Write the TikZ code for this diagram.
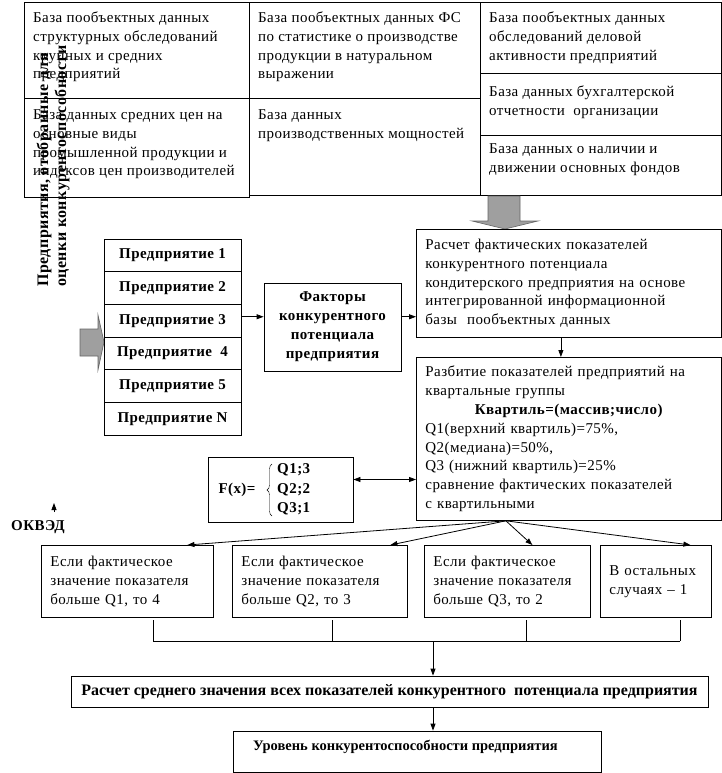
\documentclass[tikz,border=0pt]{standalone}
\usepackage{fontspec}
\setmainfont{Liberation Serif}
\newfontfamily\rusfont[LetterSpace=3]{Liberation Serif}
\usetikzlibrary{arrows.meta}
\usetikzlibrary{decorations.pathreplacing}
\usetikzlibrary{positioning}

\begin{document}
\begin{tikzpicture}[x=1pt,y=-1pt,
  cell/.style={draw,line width=0.8pt,anchor=north west,inner sep=0pt},
  txt/.style={anchor=north west,align=left,inner sep=0pt,font=\rusfont\fontsize{15}{18.8}\selectfont},
  box/.style={draw,line width=0.8pt,anchor=north west,inner xsep=9pt,inner ysep=0pt,align=left,font=\rusfont\fontsize{15}{18.8}\selectfont},
  bbox/.style={draw,line width=0.8pt,inner sep=0pt,align=center,font=\rusfont\bfseries\fontsize{15}{19}\selectfont},
  btxt/.style={inner sep=0pt,font=\rusfont\bfseries\fontsize{15}{19}\selectfont},
  arr/.style={line width=0.8pt,-{Triangle[length=7pt,width=5pt]}},
  bigarrow/.style={fill=gray!75,draw=black!60,line width=0.6pt}]

\fill[white] (0,0) rectangle (722,773);
\useasboundingbox (0,0) rectangle (722,773);

%top table
\node[cell,minimum width=225pt,minimum height=96pt] (c1a) at (24,2) {};
\node[cell,minimum width=225pt,minimum height=99pt] (c1b) at (24,98) {};
\node[cell,minimum width=231pt,minimum height=96pt] (c2a) at (249,2) {};
\node[cell,minimum width=231pt,minimum height=97pt] (c2b) at (249,98) {};
\node[cell,minimum width=241pt,minimum height=71pt] (c3a) at (480,2) {};
\node[cell,minimum width=241pt,minimum height=62pt] (c3b) at (480,73) {};
\node[cell,minimum width=241pt,minimum height=60pt] (c3c) at (480,135) {};

\node[txt] (t1a) at ([shift={(9,9.5)}]c1a.north west) {База пообъектных данных\\структурных обследований\\крупных и средних\\предприятий};
\node[txt] (t1b) at ([shift={(9,11.5)}]c1b.north west) {База данных средних цен на\\основные виды\\промышленной продукции и\\индексов цен производителей};
\node[txt] (t2a) at ([shift={(9,9.5)}]c2a.north west) {База пообъектных данных ФС\\по статистике о производстве\\продукции в натуральном\\выражении};
\node[txt] (t2b) at ([shift={(9,11.5)}]c2b.north west) {База данных\\производственных мощностей};
\node[txt] (t3a) at ([shift={(9,9.5)}]c3a.north west) {База пообъектных данных\\обследований деловой\\активности предприятий};
\node[txt] (t3b) at ([shift={(9,12.5)}]c3b.north west) {База данных бухгалтерской\\отчетности~ организации};
\node[txt] (t3c) at ([shift={(9,8.5)}]c3c.north west) {База данных о наличии и\\движении основных фондов};

%rotated caption over the table
\node[btxt,rotate=90,anchor=west,align=left,font=\rusfont\bfseries\fontsize{16}{18}\selectfont] (sel) at (53,287) {Предприятия, отобранные для\\оценки конкурентоспособности};

%big grey arrows
\filldraw[bigarrow] (488,196) -- (520,196) -- (520,221) -- (538,221) -- (505,229) -- (472,221) -- (488,221) -- cycle;
\filldraw[bigarrow] (80,329) -- (98,329) -- (98,315) -- (104,342) -- (98,370) -- (98,356) -- (80,356) -- cycle;

%enterprises
\foreach \lbl [count=\i] in {Предприятие 1,Предприятие 2,Предприятие 3,Предприятие~~4,Предприятие 5,Предприятие N}
  \node[bbox,minimum width=137pt,minimum height=32.7pt] (l\i) at (172.5,{222.65+32.7*\i}) {\lbl};

\node[bbox,minimum width=137pt,minimum height=88pt] (fac) at (332.5,327) {Факторы\\конкурентного\\потенциала\\предприятия};

%calculation
\node[box,text width=287pt,minimum height=108pt] (calc) at (416,229) {Расчет фактических показателей\\конкурентного потенциала\\кондитерского предприятия на основе\\интегрированной информационной\\базы~ пообъектных данных};
\node[box,text width=287pt,minimum height=163pt] (split) at (416,357) {Разбитие показателей предприятий на\\квартальные группы\\\hfill\textbf{Квартиль=(массив;число)}\hfill\null\\Q1(верхний квартиль)=75\%,\\Q2(медиана)=50\%,\\Q3 (нижний квартиль)=25\%\\сравнение фактических показателей\\с квартильными};

%F(x)
\node[draw,line width=0.8pt,inner sep=0pt,minimum width=145pt,minimum height=65pt] (fx) at (280.5,489.5) {};
\node[btxt] (fxl) at (237,490) {F(x)=};
\draw[decorate,decoration={brace,amplitude=5pt}] (272,516) -- (272,464);
\node[btxt,anchor=west,align=left,font=\rusfont\bfseries\fontsize{15}{19.5}\selectfont] (fxq) at (277,489.5) {Q1;3\\Q2;2\\Q3;1};

\node[btxt] (okv) at (38,527) {ОКВЭД};
\coordinate (okvtip) at (54,503);
\draw[arr] ([xshift=16pt,yshift=8pt]okv.north) -- (okvtip);

%cases
\node[box,text width=154pt,minimum height=72pt] (b1) at (41,545) {Если фактическое\\значение показателя\\больше Q1, то 4};
\node[box,text width=157pt,minimum height=72pt] (b2) at (232,545) {Если фактическое\\значение показателя\\больше Q2, то 3};
\node[box,text width=148pt,minimum height=72pt] (b3) at (424,545) {Если фактическое\\значение показателя\\больше Q3, то 2};
\node[box,text width=93pt,minimum height=72pt] (b4) at (600,545) {В остальных\\случаях – 1};

%result
\node[draw,line width=0.8pt,inner sep=0pt,minimum width=637pt,minimum height=31pt,font=\bfseries\fontsize{16}{18}\selectfont] (avg) at (389.5,691.5) {Расчет среднего значения всех показателей конкурентного~ потенциала предприятия};
\node[draw,line width=0.8pt,inner sep=0pt,minimum width=368pt,minimum height=41pt] (lvl) at (417,751.5) {};
\node[anchor=base west,inner sep=0pt,font=\bfseries\fontsize{14.5}{18}\selectfont] (lvlt) at (253,750) {Уровень конкурентоспособности предприятия};

%connectors
\draw[arr] ([yshift=4pt]l3.east) -- ([yshift=4pt]l3.east -| fac.west);
\draw[arr] ([yshift=4pt]l3.east -| fac.east) -- ([yshift=4pt]l3.east -| calc.west);
\draw[arr] ([xshift=-8pt]calc.south) -- ([xshift=-8pt]split.north);
\draw[line width=0.8pt,{Triangle[length=7pt,width=5pt]}-{Triangle[length=7pt,width=5pt]}] ([yshift=10pt]fx.east) -- ([yshift=10pt]fx.east -| split.west);

\coordinate (fan) at ([xshift=-63pt]split.south);
\draw[arr] (fan) -- ([xshift=60pt]b1.north);
\draw[arr] (fan) -- ([xshift=70.5pt]b2.north);
\draw[arr] (fan) -- ([xshift=25pt]b3.north);
\draw[arr] (fan) -- ([xshift=34.5pt]b4.north);

\foreach \x in {153,332,526,680}
  \draw[line width=0.8pt] (\x,620) -- (\x,641);
\draw[line width=0.8pt] (153,641) -- (680,641);
\coordinate (join) at (433,641);
\draw[arr] (join) -- (join |- avg.north);
\draw[arr] (join |- avg.south) -- (join |- lvl.north);
\end{tikzpicture}
\end{document}
